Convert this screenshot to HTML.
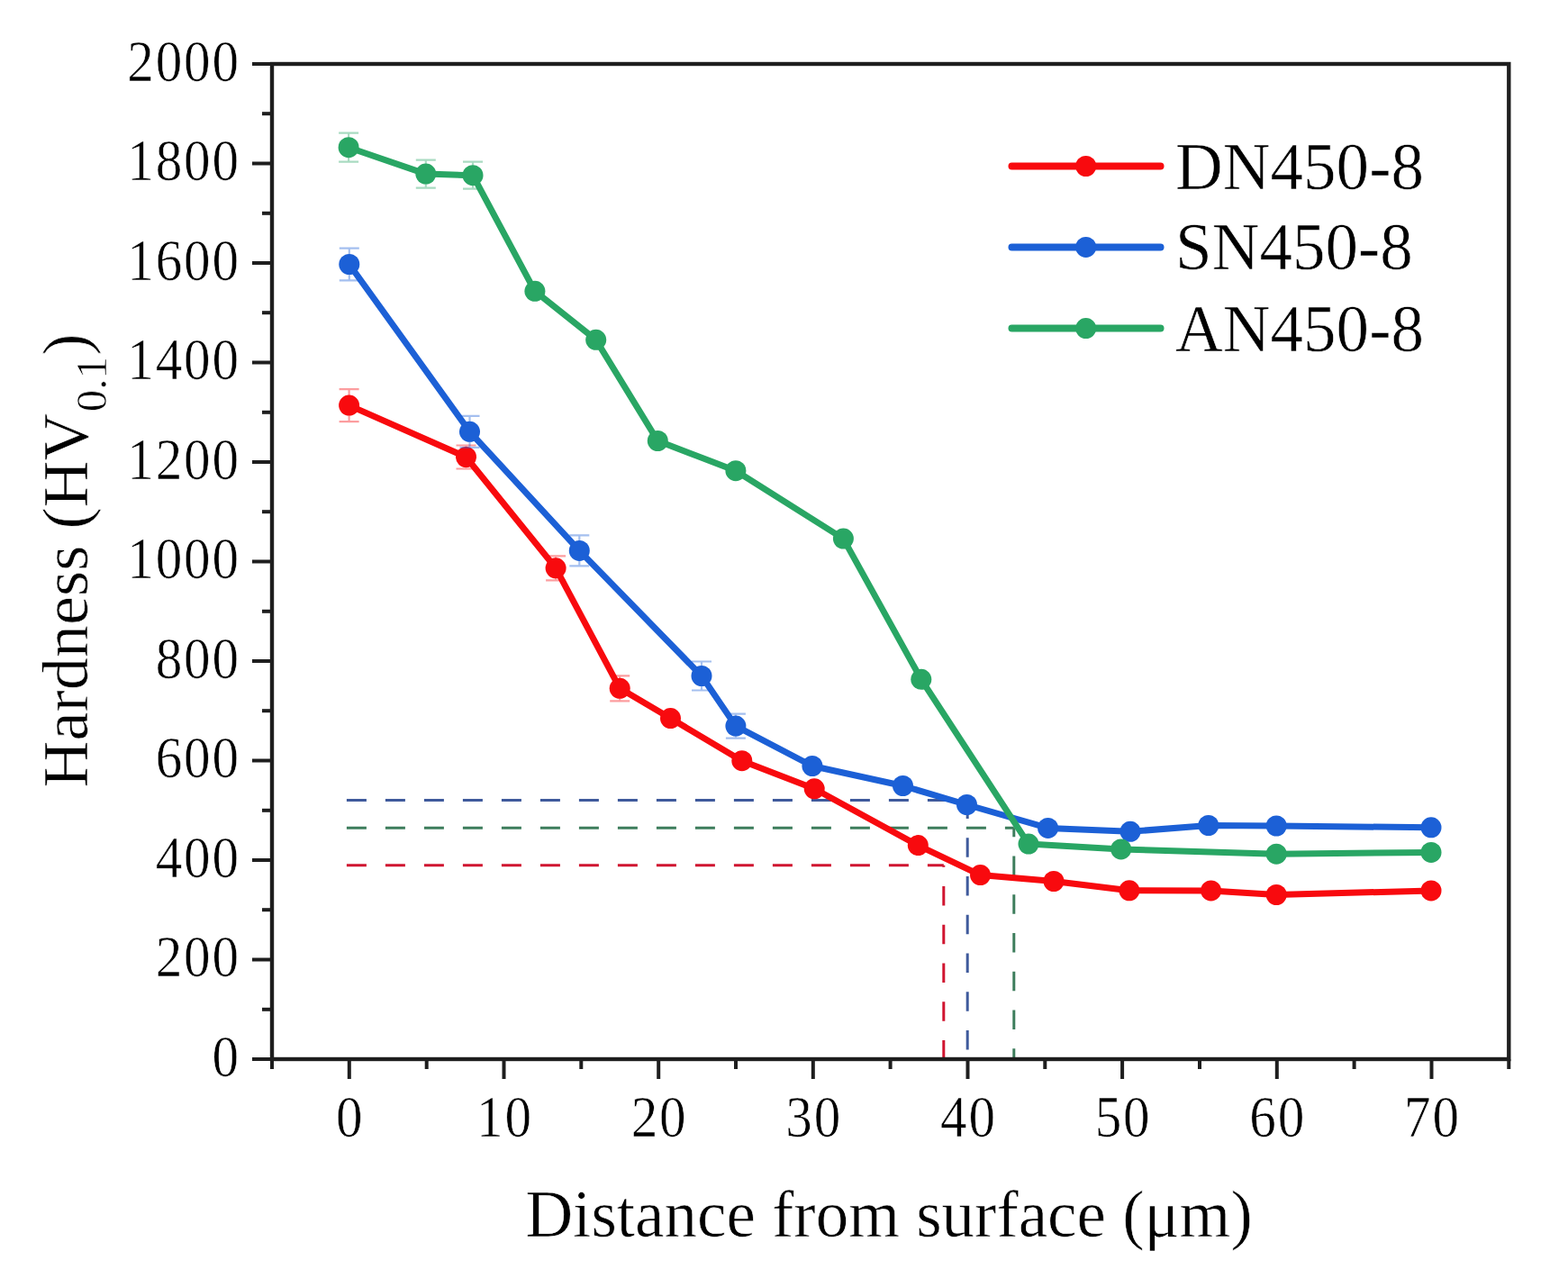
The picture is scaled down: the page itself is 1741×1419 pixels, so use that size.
<!DOCTYPE html><html><head><meta charset="utf-8"><style>html,body{margin:0;padding:0;background:#fff;}svg{display:block}text{font-family:"Liberation Serif","Times New Roman",serif;fill:#000;stroke:#fff;stroke-width:0.6px;paint-order:fill stroke}</style></head><body>
<svg width="1741" height="1419" viewBox="0 0 1741 1419">
<rect x="0" y="0" width="1741" height="1419" fill="#fff"/>
<line x1="384.9" y1="888.6" x2="1074.2" y2="888.6" stroke="#3f5a9c" stroke-width="3" stroke-dasharray="22 21" stroke-dashoffset="0"/>
<line x1="384.9" y1="919.2" x2="1125.8" y2="919.2" stroke="#3d7d5c" stroke-width="3" stroke-dasharray="22 21" stroke-dashoffset="0"/>
<line x1="384.9" y1="960.8" x2="1047.8" y2="960.8" stroke="#d01530" stroke-width="3" stroke-dasharray="22 21" stroke-dashoffset="0"/>
<line x1="1074.2" y1="887.6" x2="1074.2" y2="1176.0" stroke="#3f5a9c" stroke-width="3" stroke-dasharray="21.5 21.25" stroke-dashoffset="0"/>
<line x1="1125.8" y1="919.2" x2="1125.8" y2="1176.0" stroke="#3d7d5c" stroke-width="3" stroke-dasharray="21.5 21.25" stroke-dashoffset="11.4"/>
<line x1="1047.8" y1="960.8" x2="1047.8" y2="1176.0" stroke="#d01530" stroke-width="3" stroke-dasharray="21.5 21.25" stroke-dashoffset="19.55"/>
<path d="M387.6,450.1 L517.5,507.5 L617.1,630.8 L688.2,764.3 L744.5,797.6 L823.8,844.7 L904.2,875.8 L1019.3,938.6 L1088.5,971.6 L1170.0,978.5 L1253.9,988.8 L1344.6,988.9 L1417.2,993.5 L1589.0,988.9" fill="none" stroke="#f80a0e" stroke-width="7.0" stroke-linejoin="round"/>
<path d="M376.6,432.1 H398.6 M387.6,432.1 V468.1 M376.6,468.1 H398.6" stroke="#f80a0e" stroke-opacity="0.4" stroke-width="2.2" fill="none"/>
<circle cx="387.6" cy="450.1" r="11.5" fill="#f80a0e"/>
<path d="M506.5,494.5 H528.5 M517.5,494.5 V520.5 M506.5,520.5 H528.5" stroke="#f80a0e" stroke-opacity="0.4" stroke-width="2.2" fill="none"/>
<circle cx="517.5" cy="507.5" r="11.5" fill="#f80a0e"/>
<path d="M606.1,617.3 H628.1 M617.1,617.3 V644.3 M606.1,644.3 H628.1" stroke="#f80a0e" stroke-opacity="0.4" stroke-width="2.2" fill="none"/>
<circle cx="617.1" cy="630.8" r="11.5" fill="#f80a0e"/>
<path d="M677.2,750.3 H699.2 M688.2,750.3 V778.3 M677.2,778.3 H699.2" stroke="#f80a0e" stroke-opacity="0.4" stroke-width="2.2" fill="none"/>
<circle cx="688.2" cy="764.3" r="11.5" fill="#f80a0e"/>
<circle cx="744.5" cy="797.6" r="11.5" fill="#f80a0e"/>
<circle cx="823.8" cy="844.7" r="11.5" fill="#f80a0e"/>
<circle cx="904.2" cy="875.8" r="11.5" fill="#f80a0e"/>
<circle cx="1019.3" cy="938.6" r="11.5" fill="#f80a0e"/>
<circle cx="1088.5" cy="971.6" r="11.5" fill="#f80a0e"/>
<circle cx="1170.0" cy="978.5" r="11.5" fill="#f80a0e"/>
<circle cx="1253.9" cy="988.8" r="11.5" fill="#f80a0e"/>
<circle cx="1344.6" cy="988.9" r="11.5" fill="#f80a0e"/>
<circle cx="1417.2" cy="993.5" r="11.5" fill="#f80a0e"/>
<circle cx="1589.0" cy="988.9" r="11.5" fill="#f80a0e"/>
<path d="M387.8,293.5 L521.5,479.3 L643.3,611.4 L779.0,750.5 L816.9,806.1 L901.9,850.5 L1002.5,872.5 L1073.5,893.5 L1163.6,919.4 L1255.0,923.3 L1341.8,916.5 L1417.2,917.0 L1589.0,918.8" fill="none" stroke="#1c60d6" stroke-width="7.0" stroke-linejoin="round"/>
<path d="M376.8,275.7 H398.8 M387.8,275.7 V311.3 M376.8,311.3 H398.8" stroke="#1c60d6" stroke-opacity="0.4" stroke-width="2.2" fill="none"/>
<circle cx="387.8" cy="293.5" r="11.5" fill="#1c60d6"/>
<path d="M510.5,461.8 H532.5 M521.5,461.8 V496.8 M510.5,496.8 H532.5" stroke="#1c60d6" stroke-opacity="0.4" stroke-width="2.2" fill="none"/>
<circle cx="521.5" cy="479.3" r="11.5" fill="#1c60d6"/>
<path d="M632.3,594.4 H654.3 M643.3,594.4 V628.4 M632.3,628.4 H654.3" stroke="#1c60d6" stroke-opacity="0.4" stroke-width="2.2" fill="none"/>
<circle cx="643.3" cy="611.4" r="11.5" fill="#1c60d6"/>
<path d="M768.0,734.5 H790.0 M779.0,734.5 V766.5 M768.0,766.5 H790.0" stroke="#1c60d6" stroke-opacity="0.4" stroke-width="2.2" fill="none"/>
<circle cx="779.0" cy="750.5" r="11.5" fill="#1c60d6"/>
<path d="M805.9,792.6 H827.9 M816.9,792.6 V819.6 M805.9,819.6 H827.9" stroke="#1c60d6" stroke-opacity="0.4" stroke-width="2.2" fill="none"/>
<circle cx="816.9" cy="806.1" r="11.5" fill="#1c60d6"/>
<circle cx="901.9" cy="850.5" r="11.5" fill="#1c60d6"/>
<circle cx="1002.5" cy="872.5" r="11.5" fill="#1c60d6"/>
<circle cx="1073.5" cy="893.5" r="11.5" fill="#1c60d6"/>
<circle cx="1163.6" cy="919.4" r="11.5" fill="#1c60d6"/>
<circle cx="1255.0" cy="923.3" r="11.5" fill="#1c60d6"/>
<circle cx="1341.8" cy="916.5" r="11.5" fill="#1c60d6"/>
<circle cx="1417.2" cy="917.0" r="11.5" fill="#1c60d6"/>
<circle cx="1589.0" cy="918.8" r="11.5" fill="#1c60d6"/>
<path d="M387.1,163.7 L472.8,193.1 L525.0,194.7 L593.9,323.3 L661.7,377.3 L730.3,489.5 L816.9,522.7 L936.4,598.1 L1022.8,754.3 L1142.0,937.1 L1244.7,942.9 L1417.2,948.2 L1589.0,946.4" fill="none" stroke="#29a664" stroke-width="7.0" stroke-linejoin="round"/>
<path d="M376.1,147.7 H398.1 M387.1,147.7 V179.7 M376.1,179.7 H398.1" stroke="#29a664" stroke-opacity="0.4" stroke-width="2.2" fill="none"/>
<circle cx="387.1" cy="163.7" r="11.5" fill="#29a664"/>
<path d="M461.8,177.6 H483.8 M472.8,177.6 V208.6 M461.8,208.6 H483.8" stroke="#29a664" stroke-opacity="0.4" stroke-width="2.2" fill="none"/>
<circle cx="472.8" cy="193.1" r="11.5" fill="#29a664"/>
<path d="M514.0,179.7 H536.0 M525.0,179.7 V209.7 M514.0,209.7 H536.0" stroke="#29a664" stroke-opacity="0.4" stroke-width="2.2" fill="none"/>
<circle cx="525.0" cy="194.7" r="11.5" fill="#29a664"/>
<circle cx="593.9" cy="323.3" r="11.5" fill="#29a664"/>
<circle cx="661.7" cy="377.3" r="11.5" fill="#29a664"/>
<circle cx="730.3" cy="489.5" r="11.5" fill="#29a664"/>
<circle cx="816.9" cy="522.7" r="11.5" fill="#29a664"/>
<circle cx="936.4" cy="598.1" r="11.5" fill="#29a664"/>
<circle cx="1022.8" cy="754.3" r="11.5" fill="#29a664"/>
<circle cx="1142.0" cy="937.1" r="11.5" fill="#29a664"/>
<circle cx="1244.7" cy="942.9" r="11.5" fill="#29a664"/>
<circle cx="1417.2" cy="948.2" r="11.5" fill="#29a664"/>
<circle cx="1589.0" cy="946.4" r="11.5" fill="#29a664"/>
<rect x="302.0" y="71.0" width="1373.3" height="1105.0" fill="none" stroke="#1e1e1e" stroke-width="4.4"/>
<line x1="280.0" y1="1176.0" x2="302.0" y2="1176.0" stroke="#1e1e1e" stroke-width="4"/>
<line x1="291.0" y1="1120.8" x2="302.0" y2="1120.8" stroke="#1e1e1e" stroke-width="4"/>
<line x1="280.0" y1="1065.5" x2="302.0" y2="1065.5" stroke="#1e1e1e" stroke-width="4"/>
<line x1="291.0" y1="1010.2" x2="302.0" y2="1010.2" stroke="#1e1e1e" stroke-width="4"/>
<line x1="280.0" y1="955.0" x2="302.0" y2="955.0" stroke="#1e1e1e" stroke-width="4"/>
<line x1="291.0" y1="899.8" x2="302.0" y2="899.8" stroke="#1e1e1e" stroke-width="4"/>
<line x1="280.0" y1="844.5" x2="302.0" y2="844.5" stroke="#1e1e1e" stroke-width="4"/>
<line x1="291.0" y1="789.2" x2="302.0" y2="789.2" stroke="#1e1e1e" stroke-width="4"/>
<line x1="280.0" y1="734.0" x2="302.0" y2="734.0" stroke="#1e1e1e" stroke-width="4"/>
<line x1="291.0" y1="678.8" x2="302.0" y2="678.8" stroke="#1e1e1e" stroke-width="4"/>
<line x1="280.0" y1="623.5" x2="302.0" y2="623.5" stroke="#1e1e1e" stroke-width="4"/>
<line x1="291.0" y1="568.2" x2="302.0" y2="568.2" stroke="#1e1e1e" stroke-width="4"/>
<line x1="280.0" y1="513.0" x2="302.0" y2="513.0" stroke="#1e1e1e" stroke-width="4"/>
<line x1="291.0" y1="457.8" x2="302.0" y2="457.8" stroke="#1e1e1e" stroke-width="4"/>
<line x1="280.0" y1="402.5" x2="302.0" y2="402.5" stroke="#1e1e1e" stroke-width="4"/>
<line x1="291.0" y1="347.2" x2="302.0" y2="347.2" stroke="#1e1e1e" stroke-width="4"/>
<line x1="280.0" y1="292.0" x2="302.0" y2="292.0" stroke="#1e1e1e" stroke-width="4"/>
<line x1="291.0" y1="236.8" x2="302.0" y2="236.8" stroke="#1e1e1e" stroke-width="4"/>
<line x1="280.0" y1="181.5" x2="302.0" y2="181.5" stroke="#1e1e1e" stroke-width="4"/>
<line x1="291.0" y1="126.2" x2="302.0" y2="126.2" stroke="#1e1e1e" stroke-width="4"/>
<line x1="280.0" y1="71.0" x2="302.0" y2="71.0" stroke="#1e1e1e" stroke-width="4"/>
<line x1="302.0" y1="1176.0" x2="302.0" y2="1187.0" stroke="#1e1e1e" stroke-width="4"/>
<line x1="387.8" y1="1176.0" x2="387.8" y2="1198.0" stroke="#1e1e1e" stroke-width="4"/>
<line x1="473.7" y1="1176.0" x2="473.7" y2="1187.0" stroke="#1e1e1e" stroke-width="4"/>
<line x1="559.5" y1="1176.0" x2="559.5" y2="1198.0" stroke="#1e1e1e" stroke-width="4"/>
<line x1="645.3" y1="1176.0" x2="645.3" y2="1187.0" stroke="#1e1e1e" stroke-width="4"/>
<line x1="731.2" y1="1176.0" x2="731.2" y2="1198.0" stroke="#1e1e1e" stroke-width="4"/>
<line x1="817.0" y1="1176.0" x2="817.0" y2="1187.0" stroke="#1e1e1e" stroke-width="4"/>
<line x1="902.8" y1="1176.0" x2="902.8" y2="1198.0" stroke="#1e1e1e" stroke-width="4"/>
<line x1="988.6" y1="1176.0" x2="988.6" y2="1187.0" stroke="#1e1e1e" stroke-width="4"/>
<line x1="1074.5" y1="1176.0" x2="1074.5" y2="1198.0" stroke="#1e1e1e" stroke-width="4"/>
<line x1="1160.3" y1="1176.0" x2="1160.3" y2="1187.0" stroke="#1e1e1e" stroke-width="4"/>
<line x1="1246.1" y1="1176.0" x2="1246.1" y2="1198.0" stroke="#1e1e1e" stroke-width="4"/>
<line x1="1332.0" y1="1176.0" x2="1332.0" y2="1187.0" stroke="#1e1e1e" stroke-width="4"/>
<line x1="1417.8" y1="1176.0" x2="1417.8" y2="1198.0" stroke="#1e1e1e" stroke-width="4"/>
<line x1="1503.6" y1="1176.0" x2="1503.6" y2="1187.0" stroke="#1e1e1e" stroke-width="4"/>
<line x1="1589.5" y1="1176.0" x2="1589.5" y2="1198.0" stroke="#1e1e1e" stroke-width="4"/>
<line x1="1675.3" y1="1176.0" x2="1675.3" y2="1187.0" stroke="#1e1e1e" stroke-width="4"/>
<text transform="translate(266.97,1194.6) scale(0.91,1)" font-size="65" letter-spacing="2.06" text-anchor="end">0</text>
<text transform="translate(266.97,1084.1) scale(0.91,1)" font-size="65" letter-spacing="2.06" text-anchor="end">200</text>
<text transform="translate(266.97,973.6) scale(0.91,1)" font-size="65" letter-spacing="2.06" text-anchor="end">400</text>
<text transform="translate(266.97,863.1) scale(0.91,1)" font-size="65" letter-spacing="2.06" text-anchor="end">600</text>
<text transform="translate(266.97,752.6) scale(0.91,1)" font-size="65" letter-spacing="2.06" text-anchor="end">800</text>
<text transform="translate(266.97,642.1) scale(0.91,1)" font-size="65" letter-spacing="2.06" text-anchor="end">1000</text>
<text transform="translate(266.97,531.6) scale(0.91,1)" font-size="65" letter-spacing="2.06" text-anchor="end">1200</text>
<text transform="translate(266.97,421.1) scale(0.91,1)" font-size="65" letter-spacing="2.06" text-anchor="end">1400</text>
<text transform="translate(266.97,310.6) scale(0.91,1)" font-size="65" letter-spacing="2.06" text-anchor="end">1600</text>
<text transform="translate(266.97,200.1) scale(0.91,1)" font-size="65" letter-spacing="2.06" text-anchor="end">1800</text>
<text transform="translate(266.97,89.6) scale(0.91,1)" font-size="65" letter-spacing="2.06" text-anchor="end">2000</text>
<text transform="translate(388.77,1261.6) scale(0.91,1)" font-size="65" letter-spacing="2.06" text-anchor="middle">0</text>
<text transform="translate(560.43,1261.6) scale(0.91,1)" font-size="65" letter-spacing="2.06" text-anchor="middle">10</text>
<text transform="translate(732.09,1261.6) scale(0.91,1)" font-size="65" letter-spacing="2.06" text-anchor="middle">20</text>
<text transform="translate(903.76,1261.6) scale(0.91,1)" font-size="65" letter-spacing="2.06" text-anchor="middle">30</text>
<text transform="translate(1075.42,1261.6) scale(0.91,1)" font-size="65" letter-spacing="2.06" text-anchor="middle">40</text>
<text transform="translate(1247.08,1261.6) scale(0.91,1)" font-size="65" letter-spacing="2.06" text-anchor="middle">50</text>
<text transform="translate(1418.74,1261.6) scale(0.91,1)" font-size="65" letter-spacing="2.06" text-anchor="middle">60</text>
<text transform="translate(1590.41,1261.6) scale(0.91,1)" font-size="65" letter-spacing="2.06" text-anchor="middle">70</text>
<text x="583.4" y="1372.5" font-size="73">Distance from surface (μm)</text>
<text transform="translate(96.7,874.7) rotate(-90)" font-size="72.3">Hardness (HV<tspan font-size="49" dx="1.9" dy="21">0.1</tspan><tspan dx="1.5" dy="-21">)</tspan></text>
<line x1="1123.5" y1="184.5" x2="1288.5" y2="184.5" stroke="#f80a0e" stroke-width="8.0" stroke-linecap="round"/>
<circle cx="1205.7" cy="184.5" r="11.5" fill="#f80a0e"/>
<text transform="translate(1305.1,209.5) scale(0.987,1)" font-size="74">DN450-8</text>
<line x1="1123.5" y1="274.4" x2="1288.5" y2="274.4" stroke="#1c60d6" stroke-width="8.0" stroke-linecap="round"/>
<circle cx="1205.7" cy="274.4" r="11.5" fill="#1c60d6"/>
<text transform="translate(1305.1,299.4) scale(0.987,1)" font-size="74">SN450-8</text>
<line x1="1123.5" y1="364.6" x2="1288.5" y2="364.6" stroke="#29a664" stroke-width="8.0" stroke-linecap="round"/>
<circle cx="1205.7" cy="364.6" r="11.5" fill="#29a664"/>
<text transform="translate(1305.1,389.6) scale(0.987,1)" font-size="74">AN450-8</text>
</svg></body></html>
